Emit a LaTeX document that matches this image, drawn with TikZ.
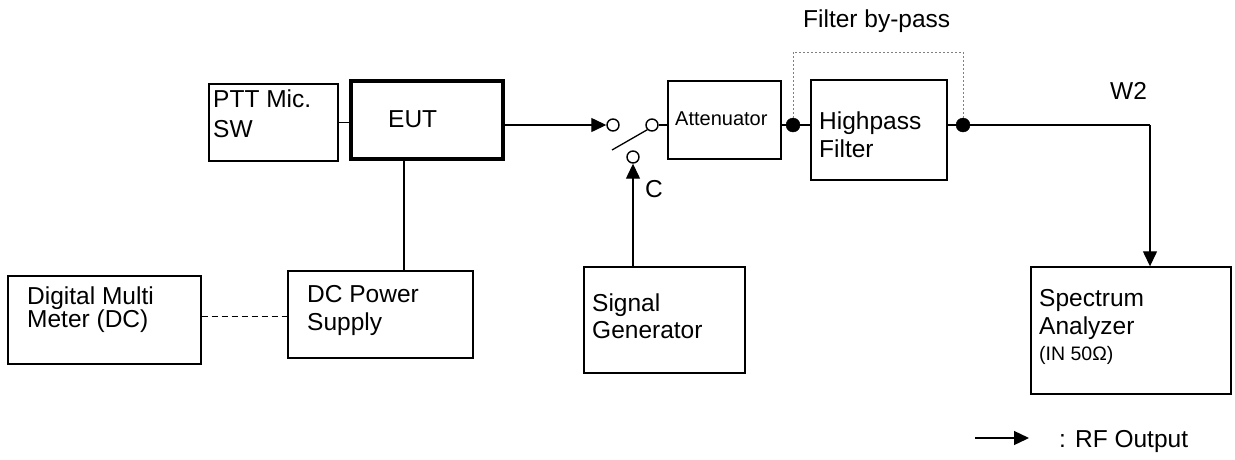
\documentclass[tikz,border=0pt]{standalone}
\usepackage{fontspec}
\setmainfont{Liberation Sans}
\usetikzlibrary{arrows.meta}
\tikzset{
	unit/.style={draw,line width=1.4pt,inner sep=0pt},
	caption/.style={anchor=base west,inner sep=0pt,align=left,font=\fontsize{24.5}{28}\selectfont},
	term/.style={draw,circle,fill=white,line width=1.4pt,inner sep=0pt,minimum size=12pt},
	joint/.style={draw,circle,fill=black,inner sep=0pt,minimum size=14pt},
	wire/.style={line width=1.3pt},
	rf/.style={line width=1.3pt,-{Triangle[length=15pt,width=14pt]}}
}
\begin{document}
\begin{tikzpicture}[x=1pt,y=-1pt]
	\useasboundingbox (0,0) rectangle (1235,459);
	% boxes
	\node[unit,minimum width=129pt,minimum height=77pt] (ptt) at (273.5,122.5) {};
	\node[unit,line width=4pt,minimum width=152pt,minimum height=78pt] (eut) at (427,120) {};
	\node[unit,minimum width=185pt,minimum height=87pt] (psu) at (380.5,314.5) {};
	\node[unit,minimum width=193pt,minimum height=88pt] (dmm) at (104.5,320) {};
	\node[unit,minimum width=113pt,minimum height=78pt] (att) at (724.5,120) {};
	\node[unit,minimum width=136pt,minimum height=100pt] (hpf) at (879,130) {};
	\node[unit,minimum width=161pt,minimum height=106pt] (sg) at (664.5,320) {};
	\node[unit,minimum width=200pt,minimum height=127pt] (sa) at (1131,330.5) {};
	% texts
	\node[caption,font=\fontsize{24.5}{30}\selectfont] (ptttext) at (213,137) {PTT Mic.\\SW};
	\node[caption] (euttext) at (388,127) {EUT};
	\node[caption] (psutext) at (307,330) {DC Power\\Supply};
	\node[caption,font=\fontsize{24.5}{23}\selectfont] (dmmtext) at (27,327) {Digital Multi\\Meter (DC)};
	\node[caption,font=\fontsize{20}{24}\selectfont] (atttext) at (675,125) {Attenuator};
	\node[caption] (hpftext) at (819,157) {Highpass\\Filter};
	\node[caption,font=\fontsize{24.5}{27}\selectfont] (sgtext) at (592,338) {Signal\\Generator};
	\node[caption] (satext) at (1039,360) {Spectrum\\Analyzer\\[-2pt]{\fontsize{19.5}{24}\selectfont (IN 50Ω)}};
	\node[caption] (ctext) at (645,197) {C};
	\node[caption] (w2text) at (1110,99) {W2};
	\node[caption] (bypasstext) at (803,27) {Filter by-pass};
	\node[caption] (legendtext) at (1059,447) {: RF Output};
	% switch and joints
	\node[term] (swin) at (613,125) {};
	\node[term] (swout) at (652,125) {};
	\node[term] (swc) at (633,157) {};
	\node[joint] (jleft) at (793,125) {};
	\node[joint] (jright) at (963,125) {};
	\coordinate (blade) at (612,150);
	\coordinate (corner) at (1150,125);
	\coordinate (meas) at (245,316);
	\coordinate (legl) at (975,438);
	\coordinate (legr) at (1029,438);
	% connectors
	\draw[wire] (ptt.east) -- (ptt.east -| eut.west);
	\draw[wire] ([xshift=-23pt]eut.south) -- ([xshift=23.5pt]psu.north);
	\draw[line width=1pt,dash pattern=on 6pt off 4pt] (meas -| dmm.east) -- (meas -| psu.west);
	\draw[rf] (swin -| eut.east) -- (swin.west);
	\draw[wire] (blade) -- (swout.south west);
	\draw[wire] (swout) -- (swout -| att.west);
	\draw[rf] (swc |- sg.north) -- (swc.south);
	\draw[wire] (jleft -| att.east) -- (jleft) -- (jleft -| hpf.west);
	\draw[wire] (jright -| hpf.east) -- (jright) -- (corner);
	\draw[rf] (corner) -- (corner |- sa.north);
	\draw[line width=0.8pt,gray,dash pattern=on 2pt off 2pt] (jleft) -- ++(0,-73) -| (jright);
	\draw[rf] (legl) -- (legr);
\end{tikzpicture}
\end{document}
